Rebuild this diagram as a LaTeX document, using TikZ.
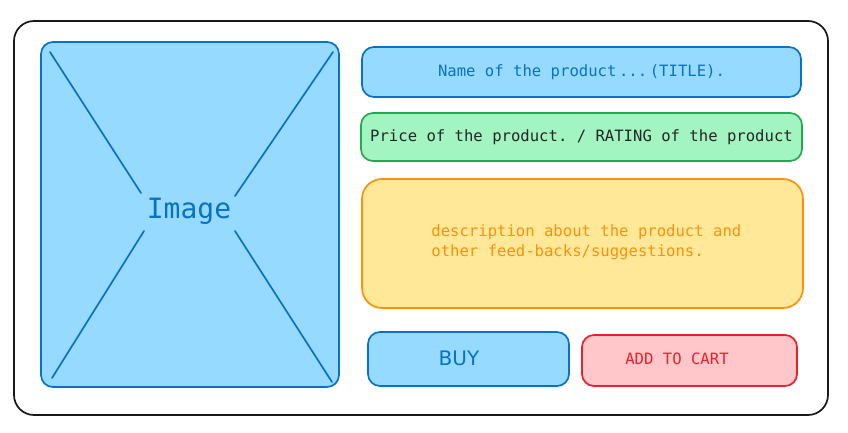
\documentclass[tikz,border=0pt]{standalone}
\usepackage{fontspec}
\setmainfont{DejaVu Sans}
\setmonofont{DejaVu Sans Mono}
\definecolor{imgblue}{RGB}{8,114,196}
\definecolor{imgfill}{RGB}{150,218,255}
\definecolor{pricegreen}{RGB}{38,168,82}
\definecolor{pricefill}{RGB}{162,244,192}
\definecolor{descorange}{RGB}{255,144,10}
\definecolor{descfill}{RGB}{255,233,153}
\definecolor{cartred}{RGB}{236,32,42}
\definecolor{cartfill}{RGB}{255,199,201}
\begin{document}
\begin{tikzpicture}[line join=round, line cap=round, thick, x=1pt, y=-1pt]
	\tikzset{card/.style={draw, line width=1.7pt, rounded corners=12pt, inner sep=0pt},
		mono/.style={font=\ttfamily\fontsize{15.6}{20}\selectfont}}
	\useasboundingbox (0,0) rectangle (848,433);
	% outer frame
	\node[card, draw=black!90, rounded corners=20pt, minimum width=814, minimum height=394] (frame) at (421,218) {};
	% image placeholder
	\node[card, draw=imgblue, fill=imgfill, minimum width=298, minimum height=345] (img) at (190,214.5) {};
	\node[text=imgblue, font=\ttfamily\fontsize{28}{30}\selectfont] (imgtxt) at (189,211.5) {Image};
	\draw[imgblue, line width=1.7pt] (50,52) -- (141,193);
	\draw[imgblue, line width=1.7pt] (333,52) -- (235,196);
	\draw[imgblue, line width=1.7pt] (52,378) -- (144,231);
	\draw[imgblue, line width=1.7pt] (332,382) -- (235,231);
	% right column
	\node[card, draw=imgblue, fill=imgfill, minimum width=439, minimum height=50, mono, text=imgblue] (title) at (581.5,72) {Name of the product\,...\,(TITLE).};
	\node[card, draw=pricegreen, fill=pricefill, minimum width=441, minimum height=48, mono, text=black!85] (price) at (581.5,137) {Price of the product. / RATING of the product};
	\node[card, draw=descorange, fill=descfill, rounded corners=20pt, minimum width=441, minimum height=129] (desc) at (582.5,243.5) {};
	\node[mono, text=descorange, anchor=west, align=left, inner sep=0pt] (desctxt) at (431,242.5) {description about the product and\\other feed-backs/suggestions.};
	% buttons
	\node[card, draw=imgblue, fill=imgfill, minimum width=201, minimum height=54] (buy) at (468.5,359) {};
	\node[text=imgblue, font=\fontsize{20}{24}\selectfont] (buytxt) at (459,358.5) {BUY};
	\node[card, draw=cartred, fill=cartfill, minimum width=215, minimum height=51] (cart) at (689.5,360.5) {};
	\node[mono, text=cartred] (carttxt) at (677,358.5) {ADD TO CART};
\end{tikzpicture}
\end{document}
